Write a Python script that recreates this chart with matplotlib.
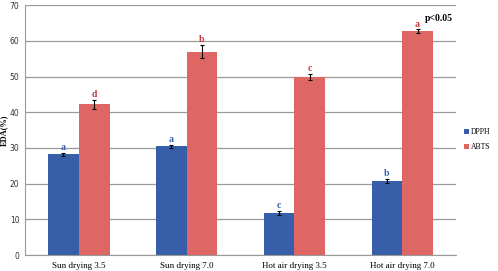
import matplotlib
matplotlib.use("Agg")
import matplotlib.pyplot as plt
import numpy as np

categories = ["Sun drying 3.5", "Sun drying 7.0", "Hot air drying 3.5", "Hot air drying 7.0"]
dpph = [28.2, 30.4, 11.8, 20.7]
dpph_err = [0.5, 0.5, 0.5, 0.6]
abts = [42.2, 57.0, 49.9, 62.7]
abts_err = [1.2, 1.8, 0.8, 0.5]
dpph_letters = ["a", "a", "c", "b"]
abts_letters = ["d", "b", "c", "a"]

blue = "#365EA9"
red = "#DE6664"

fig = plt.figure(figsize=(4.98, 2.71), dpi=100)
ax = fig.add_axes([0.05, 0.059, 0.866, 0.922])

x = np.arange(len(categories))
w = 0.285
ax.bar(x - w/2, dpph, w, color=blue, label="DPPH", zorder=2)
ax.bar(x + w/2, abts, w, color=red, label="ABTS", zorder=2)
ax.errorbar(x - w/2, dpph, yerr=dpph_err, fmt="none", ecolor="black", elinewidth=0.8, capsize=1.5, capthick=0.8, zorder=3)
ax.errorbar(x + w/2, abts, yerr=abts_err, fmt="none", ecolor="black", elinewidth=0.8, capsize=1.5, capthick=0.8, zorder=3)

for xi, v, e, l in zip(x - w/2, dpph, dpph_err, dpph_letters):
    ax.text(xi, v + e + 0.2, l, color=blue, fontsize=7, fontweight="bold", family="Liberation Serif", ha="center", va="bottom")
for xi, v, e, l in zip(x + w/2, abts, abts_err, abts_letters):
    ax.text(xi, v + e + 0.2, l, color="#C0393B", fontsize=7, fontweight="bold", family="Liberation Serif", ha="center", va="bottom")

ax.text(3.47, 66.2, "p<0.05", fontsize=7, fontweight="bold", family="Liberation Serif", ha="right", va="center")

ax.set_xlim(-0.5, 3.5)
ax.set_ylim(0, 70)
ax.set_yticks(range(0, 71, 10))
ax.set_xticks(x)
ax.set_xticklabels(categories, family="Liberation Serif", fontsize=6.5)
ax.tick_params(axis="y", labelsize=5.5, colors="#333333", length=0, pad=4)
ax.tick_params(axis="x", length=0, pad=5)
ax.yaxis.grid(True, color="#9A9A9A", linewidth=0.9, zorder=0)
ax.set_axisbelow(True)
for s in ["top", "right"]:
    ax.spines[s].set_visible(False)
ax.spines["left"].set_color("#9A9A9A")
ax.spines["bottom"].set_color("#9A9A9A")
ax.set_ylabel("EDA(%)", family="Liberation Serif", fontweight="bold", fontsize=6)
ax.yaxis.set_label_coords(-0.038, 0.5)

leg = fig.legend(loc="upper left", bbox_to_anchor=(0.925, 0.54), frameon=False,
                 prop={"family": "Liberation Serif", "size": 5.5}, handlelength=0.6, handleheight=0.6,
                 handletextpad=0.2, labelspacing=0.9, borderpad=0)

fig.savefig("out.png", dpi=100)
